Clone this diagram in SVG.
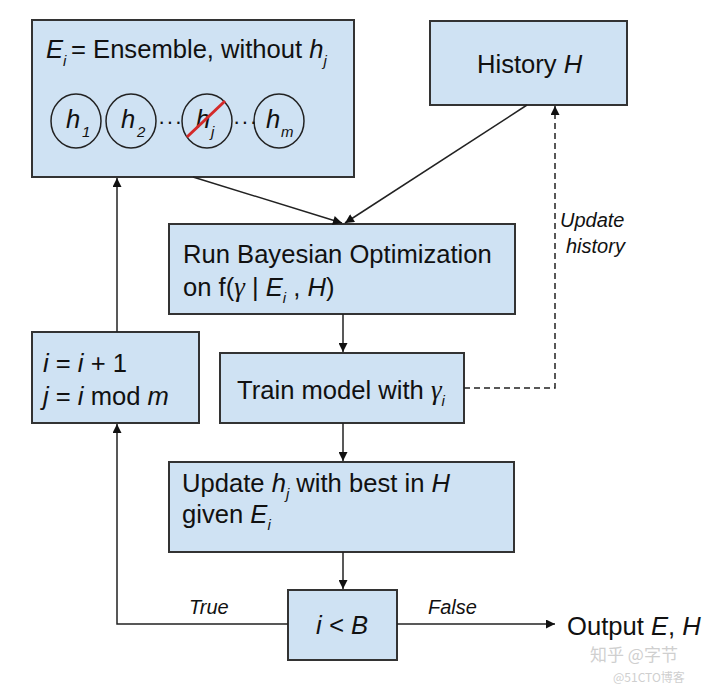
<svg xmlns="http://www.w3.org/2000/svg" width="720" height="685" viewBox="0 0 720 685">
<defs>
<style>
text{font-family:"Liberation Sans",Arial,sans-serif;fill:#111;}
.t{font-size:25.6px;}
.it{font-style:italic;}
.sub{font-size:15px;font-style:italic;}
.g{font-family:"Liberation Serif","Times New Roman",serif;font-style:italic;font-size:27px;}
.lbl{font-size:20px;font-style:italic;}
.box{fill:#cfe2f3;stroke:#333;stroke-width:2;}
.c{fill:none;stroke:#222;stroke-width:1.5;}
.circ{fill:none;stroke:#222;stroke-width:1.5;}
.wm{fill:#cfcfcf;font-family:"Noto Sans CJK SC","Liberation Sans",sans-serif;}
</style>
<marker id="ah" viewBox="0 0 10 10" refX="10" refY="5" markerWidth="10" markerHeight="9" markerUnits="userSpaceOnUse" orient="auto">
<path d="M0,0 L10,5 L0,10 Z" fill="#111"/>
</marker>
</defs>

<g id="ensemble">
<rect class="box" x="32" y="20" width="322" height="157"/>
<text class="t" x="46" y="58"><tspan class="it">E</tspan><tspan class="sub" dy="8">i</tspan><tspan x="71" dy="-8">= Ensemble, without </tspan><tspan class="it">h</tspan><tspan class="sub" dy="8">j</tspan></text>
<ellipse class="circ" cx="76" cy="121" rx="25" ry="27"/>
<ellipse class="circ" cx="131" cy="121" rx="25" ry="27"/>
<ellipse class="circ" cx="207" cy="121" rx="25" ry="27"/>
<ellipse class="circ" cx="279" cy="121" rx="25" ry="27"/>
<text class="t it" x="66" y="128">h<tspan class="sub" x="82" dy="9">1</tspan></text>
<text class="t it" x="121" y="128">h<tspan class="sub" x="137" dy="9">2</tspan></text>
<text class="t it" x="196" y="128">h<tspan class="sub" x="211" dy="9">j</tspan></text>
<text class="t it" x="266" y="128">h<tspan class="sub" x="281" dy="9">m</tspan></text>
<text x="158" y="129" style="font-size:22px;letter-spacing:1px">···</text>
<text x="233" y="129" style="font-size:22px;letter-spacing:1px">···</text>
<line x1="187" y1="137" x2="225" y2="101" stroke="#d42a2a" stroke-width="3"/>
</g>

<g id="history">
<rect class="box" x="430" y="21" width="197" height="84"/>
<text class="t" x="477" y="73">History <tspan class="it">H</tspan></text>
</g>

<g id="runbo">
<rect class="box" x="169" y="224" width="346" height="90"/>
<text class="t" x="183" y="263">Run Bayesian Optimization</text>
<text class="t" x="183" y="296">on f(<tspan class="g">γ</tspan> | <tspan class="it">E</tspan><tspan class="sub" dy="7">i</tspan><tspan dy="-7"> , </tspan><tspan class="it">H</tspan>)</text>
</g>

<g id="increment">
<rect class="box" x="32" y="332" width="167" height="91"/>
<text class="t" x="43" y="372"><tspan class="it">i</tspan> = <tspan class="it">i</tspan> + 1</text>
<text class="t" x="43" y="405"><tspan class="it">j</tspan> = <tspan class="it">i</tspan> mod <tspan class="it">m</tspan></text>
</g>

<g id="train">
<rect class="box" x="220" y="353" width="244" height="70"/>
<text class="t" x="237" y="399">Train model with <tspan class="g">γ</tspan><tspan class="sub" dy="7">i</tspan></text>
</g>

<g id="update">
<rect class="box" x="169" y="462" width="345" height="90"/>
<text class="t" x="182" y="492">Update <tspan class="it">h</tspan><tspan class="sub" dy="7">j</tspan><tspan dy="-7"> with best in </tspan><tspan class="it">H</tspan></text>
<text class="t" x="182" y="523">given <tspan class="it">E</tspan><tspan class="sub" dy="7">i</tspan></text>
</g>

<g id="condition">
<rect class="box" x="288" y="590" width="109" height="70"/>
<text class="t it" x="342" y="634" text-anchor="middle">i &lt; B</text>
</g>

<g id="output">
<text class="t" x="567" y="635">Output <tspan class="it">E</tspan>, <tspan class="it">H</tspan></text>
</g>

<g id="connectors">
<line class="c" x1="193" y1="177" x2="342" y2="223" marker-end="url(#ah)"/>
<line class="c" x1="527" y1="105" x2="345" y2="223" marker-end="url(#ah)"/>
<line class="c" x1="343" y1="314" x2="343" y2="352" marker-end="url(#ah)"/>
<line class="c" x1="343" y1="423" x2="343" y2="461" marker-end="url(#ah)"/>
<line class="c" x1="343" y1="552" x2="343" y2="589" marker-end="url(#ah)"/>
<polyline class="c" points="464,388 555,388 555,106" stroke-dasharray="6,4" marker-end="url(#ah)"/>
<line class="c" x1="117" y1="332" x2="117" y2="178" marker-end="url(#ah)"/>
<polyline class="c" points="288,624 117,624 117,424" marker-end="url(#ah)"/>
<line class="c" x1="397" y1="624" x2="555" y2="624" marker-end="url(#ah)"/>
<text class="lbl" x="560" y="227">Update</text>
<text class="lbl" x="566" y="253">history</text>
<text class="lbl" x="189" y="614">True</text>
<text class="lbl" x="428" y="614">False</text>
</g>

<g id="watermark">
<text class="wm" x="590" y="661" style="font-size:17px">知乎 @字节</text>
<text class="wm" x="613" y="682" style="font-size:12px">@51CTO博客</text>
</g>
</svg>
